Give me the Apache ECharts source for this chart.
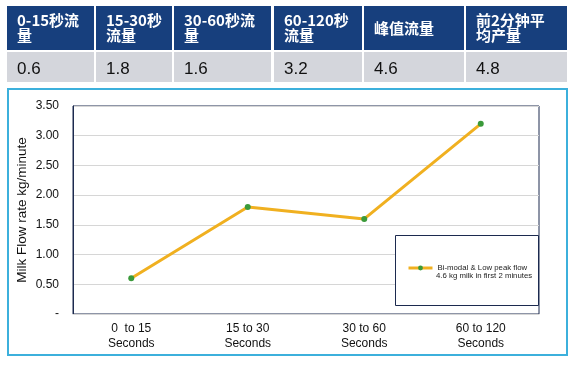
<!DOCTYPE html>
<html>
<head>
<meta charset="utf-8">
<script src="https://cdn.jsdelivr.net/npm/echarts@6/dist/echarts.min.js"></script>
<style>
html,body{margin:0;padding:0;background:#fff;}
#c{width:575px;height:366px;}
</style>
</head>
<body>
<div id="c"></div>
<script>
// ---- data ----
var tableHeaders = ['0-15秒流\n量', '15-30秒\n流量', '30-60秒流\n量', '60-120秒\n流量', '峰值流量', '前2分钟平\n均产量'];
var tableValues = ['0.6', '1.8', '1.6', '3.2', '4.6', '4.8'];
var categories = ['0  to 15\nSeconds', '15 to 30\nSeconds', '30 to 60\nSeconds', '60 to 120\nSeconds'];
var flowValues = [0.6, 1.8, 1.6, 3.2];
var seriesName = 'Bi-modal & Low peak flow';
var seriesNote = '4.6 kg milk in first 2 minutes';
var yTicks = { min: 0, max: 3.5, interval: 0.5 };
var yAxisName = 'Milk Flow rate kg/minute';

// ---- layout (styles/positions) ----
var colX = [[7, 94], [96, 172], [174, 271], [274, 362], [364, 464], [466, 567]];
var headY = [6, 50], valY = [52, 82];

var graphics = [];
tableHeaders.forEach(function (h, i) {
  var x0 = colX[i][0], x1 = colX[i][1];
  graphics.push({
    type: 'rect', shape: { x: x0, y: headY[0], width: x1 - x0, height: headY[1] - headY[0] },
    style: { fill: '#173f7d' }, silent: true
  });
  graphics.push({
    type: 'text', x: x0 + 10, y: 28,
    style: {
      text: h, fill: '#ffffff', font: 'bold 15px "Noto Sans CJK SC", "Liberation Sans", sans-serif',
      lineHeight: 15.5, verticalAlign: 'middle', align: 'left'
    }, silent: true
  });
  graphics.push({
    type: 'rect', shape: { x: x0, y: valY[0], width: x1 - x0, height: valY[1] - valY[0] },
    style: { fill: '#d4d6dc' }, silent: true
  });
  graphics.push({
    type: 'text', x: x0 + 10, y: 69,
    style: {
      text: tableValues[i], fill: '#111111', font: '17px "Liberation Sans", Arial, sans-serif',
      verticalAlign: 'middle', align: 'left'
    }, silent: true
  });
});
// chart frame
graphics.push({
  type: 'rect', shape: { x: 8, y: 89, width: 559, height: 266 },
  style: { fill: 'none', stroke: '#3cb0dc', lineWidth: 2 }, silent: true, z: -1
});
// legend box
graphics.push({
  type: 'rect', shape: { x: 395.5, y: 235.5, width: 143, height: 70 },
  style: { fill: '#ffffff', stroke: '#1c2a4f', lineWidth: 1 }, silent: true, z: 10
});
// legend second line
graphics.push({
  type: 'text', x: 436, y: 276, z: 11,
  style: {
    text: seriesNote, fill: '#222222', font: '7.8px "Liberation Sans", Arial, sans-serif',
    verticalAlign: 'middle', align: 'left'
  }, silent: true
});

var chart = echarts.init(document.getElementById('c'));
chart.setOption({
  animation: false,
  graphic: graphics,
  grid: {
    left: 73, top: 106, right: 36, bottom: 52, show: true,
    borderColor: '#1c2a4f', borderWidth: 1, backgroundColor: 'transparent'
  },
  legend: {
    show: true, left: 407, top: 264, z: 11,
    itemWidth: 24, itemHeight: 6, itemGap: 0, padding: 0,
    data: [seriesName],
    lineStyle: { width: 3 },
    textStyle: {
      fontSize: 7.8, color: '#222222', fontFamily: '"Liberation Sans", Arial, sans-serif'
    }
  },
  xAxis: {
    type: 'category', data: categories, boundaryGap: true,
    axisLine: { show: true, lineStyle: { color: '#d6d6d6', width: 1 } },
    axisTick: { show: false },
    axisLabel: {
      color: '#111111', fontSize: 12, lineHeight: 15, margin: 7,
      fontFamily: '"Liberation Sans", Arial, sans-serif', interval: 0
    },
    splitLine: { show: false }
  },
  yAxis: {
    type: 'value', min: yTicks.min, max: yTicks.max, interval: yTicks.interval,
    name: yAxisName, nameLocation: 'middle', nameGap: 44, nameRotate: 90,
    nameMoveOverlap: false,
    nameTextStyle: { fontSize: 13.5, color: '#111111', fontFamily: '"Liberation Sans", Arial, sans-serif' },
    axisLine: { show: true, lineStyle: { color: '#1c2a4f', width: 1 } },
    axisTick: { show: false },
    axisLabel: {
      color: '#111111', fontSize: 12, margin: 14,
      fontFamily: '"Liberation Sans", Arial, sans-serif',
      formatter: function (v) { return v === 0 ? '-' : v.toFixed(2); }
    },
    splitLine: { show: true, lineStyle: { color: '#d6d6d6', width: 1 } }
  },
  series: [{
    name: seriesName, type: 'line', data: flowValues,
    lineStyle: { color: '#f0b020', width: 3 },
    itemStyle: { color: '#3a9a3a', borderColor: '#3a9a3a', borderWidth: 0 },
    symbol: 'circle', symbolSize: 6, showSymbol: true, z: 5
  }]
});
</script>
</body>
</html>
